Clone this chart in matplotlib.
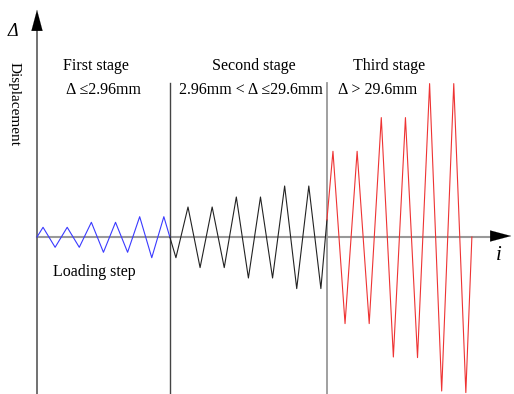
import numpy as np
import matplotlib.pyplot as plt

plt.rcParams['font.family'] = ['Liberation Serif', 'DejaVu Serif']

# loading history: one peak and one trough per cycle (step i = quarter cycle)
peaks = [9.7, 9.7, 14.7, 14.7, 20.3, 20.3,
         30.0, 30.0, 40.0, 40.0, 51.0, 51.0,
         85.7, 85.7, 119.4, 119.4, 153.4, 153.4]
troughs = [10.3, 10.3, 15.3, 15.3, 20.7, 20.7,
           30.6, 30.6, 41.0, 41.0, 51.6, 51.6,
           86.6, 86.6, 120.0, 120.6, 154.0, 155.6]
stage_bounds = [0, 22, 48, 72]
stage_colors = ['#3a3aff', '#222222', '#ee3333']
stage_titles = ['First stage', 'Second stage', 'Third stage']
stage_limits = ['\u0394 \u22642.96mm', '2.96mm < \u0394 \u226429.6mm', '\u0394 > 29.6mm']

steps = [0]
disp = [0.0]
for k, (p, t) in enumerate(zip(peaks, troughs)):
    steps += [4 * k + 1, 4 * k + 3]
    disp += [p, -t]
steps.append(4 * len(peaks))
disp.append(0.0)
steps = np.array(steps, dtype=float)
disp = np.array(disp)

fig = plt.figure(figsize=(5.14, 3.94), dpi=100)
ax = fig.add_axes([0, 0, 1, 1])
sx = 6.04  # pixels per step
ax.set_xlim(-37 / sx, 477 / sx)
ax.set_ylim(237 - 394, 237)
ax.axis('off')


def px(x, y):
    return (x - 37) / sx, 237 - y


# axes with arrows
ax.plot([0, 77], [0, 0], color='#999999', lw=1.5, zorder=1)
ax.annotate('', xy=px(514, 236), xytext=px(495, 236),
            arrowprops=dict(arrowstyle='-|>,head_length=0.75,head_width=0.2',
                            color='black', lw=0.1, mutation_scale=20))
ax.plot([0, 0], [-160, 210], color='#666666', lw=1.3, zorder=1)
ax.annotate('', xy=px(37, 7), xytext=px(37, 31),
            arrowprops=dict(arrowstyle='-|>,head_length=0.75,head_width=0.2',
                            color='black', lw=0.1, mutation_scale=20))

# stage dividers
ax.plot([stage_bounds[1]] * 2, [237 - 83, -160], color='#444444', lw=1.0)
ax.plot([stage_bounds[2]] * 2, [237 - 83, -160], color='#999999', lw=1.3)

# loading curve, split by stage
for s in range(3):
    a, b = stage_bounds[s], stage_bounds[s + 1]
    inner = (steps > a) & (steps < b)
    xs = np.concatenate([[a], steps[inner], [b]])
    ys = np.interp(xs, steps, disp)
    ax.plot(xs, ys, color=stage_colors[s], lw=0.8, zorder=3)

# text
fs = 11.5
title_px = [96, 254, 389]
limit_px = [104, 251, 378]
for s in range(3):
    ax.text(*px(title_px[s], 66), stage_titles[s], ha='center', va='center', fontsize=fs)
    ax.text(*px(limit_px[s], 90), stage_limits[s], ha='center', va='center', fontsize=fs)

ax.text(*px(94, 272), 'Loading step', ha='center', va='center', fontsize=fs)
ax.text(*px(14, 104), 'Displacement', ha='center', va='center', rotation=270, fontsize=11)
ax.text(*px(13, 31), '\u0394', ha='center', va='center', fontsize=13, style='italic')
ax.text(*px(499, 256), 'i', ha='center', va='center', fontsize=15, style='italic')

fig.savefig('out.png', dpi=100)
